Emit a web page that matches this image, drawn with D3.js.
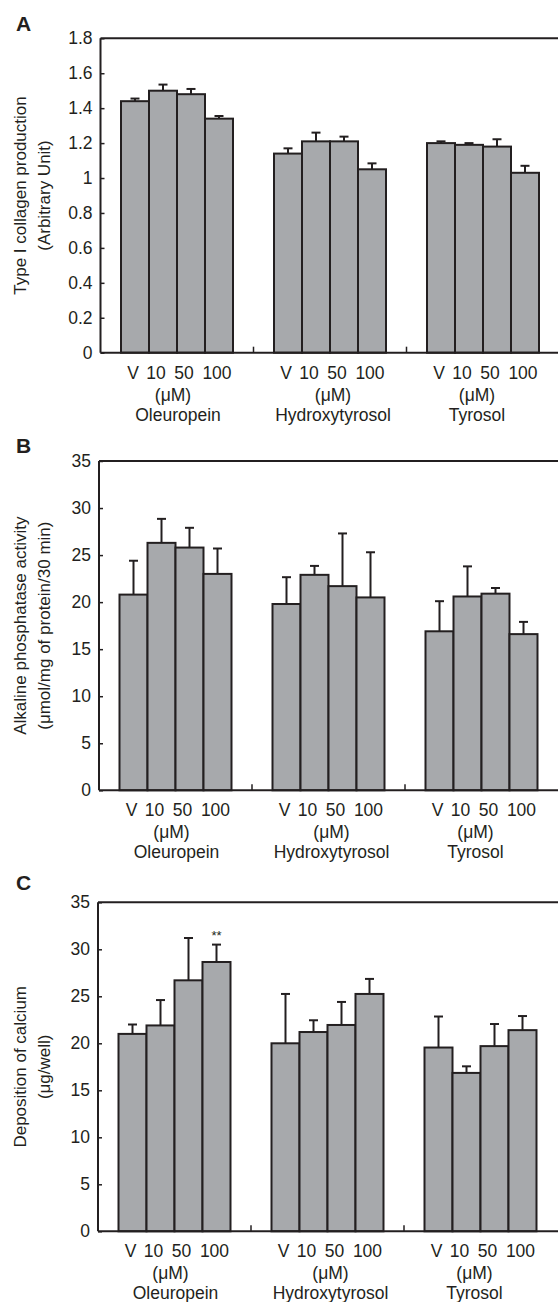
<!DOCTYPE html>
<html>
<head>
<meta charset="utf-8">
<script src="https://cdn.jsdelivr.net/npm/d3@7"></script>
<style>
  html, body { margin: 0; padding: 0; background: #fff; }
  svg { display: block; }
  text { font-family: "Liberation Sans", Arial, Helvetica, sans-serif; fill: #231f20; }
</style>
</head>
<body>
<svg id="chart" width="558" height="1302"></svg>
<script>
// ---------- data ----------
const groups = ["Oleuropein", "Hydroxytyrosol", "Tyrosol"];
const doses = ["V", "10", "50", "100"];
const unitLabel = "(\u03bcM)";

const collagenMean = [1.44, 1.50, 1.48, 1.34, 1.14, 1.21, 1.21, 1.05, 1.20, 1.19, 1.18, 1.03];
const collagenErr  = [0.015, 0.035, 0.03, 0.015, 0.03, 0.05, 0.027, 0.034, 0.01, 0.01, 0.042, 0.04];
const collagenTicks = [0, 0.2, 0.4, 0.6, 0.8, 1, 1.2, 1.4, 1.6, 1.8];
const collagenTickLabels = ["0", "0.2", "0.4", "0.6", "0.8", "1", "1.2", "1.4", "1.6", "1.8"];

const alpMean = [20.8, 26.3, 25.8, 23.0, 19.8, 22.9, 21.7, 20.5, 16.9, 20.6, 20.9, 16.6];
const alpErr  = [3.6, 2.55, 2.1, 2.7, 2.85, 0.95, 5.6, 4.8, 3.2, 3.2, 0.6, 1.3];
const alpTicks = [0, 5, 10, 15, 20, 25, 30, 35];
const alpTickLabels = ["0", "5", "10", "15", "20", "25", "30", "35"];

const calcMean = [21.0, 21.9, 26.7, 28.65, 20.0, 21.2, 21.95, 25.25, 19.55, 16.85, 19.7, 21.4];
const calcErr  = [1.0, 2.7, 4.5, 1.85, 5.25, 1.25, 2.45, 1.6, 3.3, 0.7, 2.35, 1.5];
const calcTicks = [0, 5, 10, 15, 20, 25, 30, 35];
const calcTickLabels = ["0", "5", "10", "15", "20", "25", "30", "35"];
const calcSignif = ["", "", "", "**", "", "", "", "", "", "", "", ""];

// ---------- layout / style ----------
const W = 558;
const ink = "#231f20";
const barFill = "#a7a9ac";
const doseLabelShift = [-2, -7, -7, -2];
const unitShift = [-4, 3, -6];
const nameShift = [1, 3, -6];

const panels = [
  { letter: "A", letterY: 31, axisX: 100.5, top: 38.3, bottom: 352.7,
    max: 1.8, mean: collagenMean, err: collagenErr, ticks: collagenTicks, tickLabels: collagenTickLabels,
    title: ["Type I collagen production", "(Arbitrary Unit)"], signif: null },
  { letter: "B", letterY: 453, axisX: 99, top: 461, bottom: 790.3,
    max: 35, mean: alpMean, err: alpErr, ticks: alpTicks, tickLabels: alpTickLabels,
    title: ["Alkaline phosphatase activity", "(\u03bcmol/mg of protein/30 min)"], signif: null },
  { letter: "C", letterY: 890, axisX: 98, top: 902.3, bottom: 1231.3,
    max: 35, mean: calcMean, err: calcErr, ticks: calcTicks, tickLabels: calcTickLabels,
    title: ["Deposition of calcium", "(\u03bcg/well)"], signif: calcSignif }
];

const svg = d3.select("#chart");

panels.forEach(p => {
  const g = svg.append("g");
  const y = d3.scaleLinear().domain([0, p.max]).range([p.bottom, p.top]);
  const x0 = d3.scaleBand().domain(groups).range([p.axisX, p.axisX + 459])
    .paddingInner(0.268).paddingOuter(0.134);
  const x1 = d3.scaleBand().domain(doses).range([0, x0.bandwidth()]).padding(0);

  const rows = [];
  groups.forEach((gr, gi) => doses.forEach((d, di) => {
    const k = gi * 4 + di;
    rows.push({ group: gr, dose: d, di, v: p.mean[k], e: p.err[k], s: p.signif ? p.signif[k] : "" });
  }));

  // panel letter
  g.append("text").attr("x", 16).attr("y", p.letterY)
    .attr("font-size", 21).attr("font-weight", "bold").text(p.letter);

  // y axis title
  const cy = (p.top + p.bottom) / 2;
  [26, 50].forEach((bx, i) => {
    g.append("text").attr("transform", `translate(${bx},${cy}) rotate(-90)`)
      .attr("text-anchor", "middle").attr("font-size", 17).text(p.title[i]);
  });

  // error bars
  const eb = g.append("g").attr("stroke", ink).attr("stroke-width", 2);
  rows.forEach(r => {
    const cx = x0(r.group) + x1(r.dose) + x1.bandwidth() / 2;
    eb.append("line").attr("x1", cx).attr("x2", cx).attr("y1", y(r.v)).attr("y2", y(r.v + r.e));
    eb.append("line").attr("x1", cx - 4.5).attr("x2", cx + 4.5).attr("y1", y(r.v + r.e)).attr("y2", y(r.v + r.e));
  });

  // bars
  g.append("g").selectAll("rect").data(rows).join("rect")
    .attr("x", d => x0(d.group) + x1(d.dose))
    .attr("y", d => y(d.v))
    .attr("width", x1.bandwidth())
    .attr("height", d => y(0) - y(d.v))
    .attr("fill", barFill).attr("stroke", ink).attr("stroke-width", 2);

  // significance
  rows.filter(r => r.s).forEach(r => {
    const cx = x0(r.group) + x1(r.dose) + x1.bandwidth() / 2;
    g.append("text").attr("x", cx).attr("y", y(r.v + r.e) - 5)
      .attr("text-anchor", "middle").attr("font-size", 13).text(r.s);
  });

  // y axis
  const ya = g.append("g").attr("transform", `translate(${p.axisX},0)`)
    .call(d3.axisLeft(y).tickValues(p.ticks).tickSize(-4).tickPadding(8)
      .tickFormat((d, i) => p.tickLabels[i]));
  ya.select(".domain").remove();
  ya.selectAll(".tick line").attr("stroke", ink).attr("stroke-width", 1.5);
  ya.selectAll(".tick text").attr("font-size", 17.5).attr("fill", ink)
    .attr("font-family", "'Liberation Sans', Arial, Helvetica, sans-serif");

  // frame lines: left axis, top line, bottom axis
  const fl = g.append("g").attr("stroke", ink).attr("stroke-width", 2);
  fl.append("line").attr("x1", p.axisX).attr("x2", p.axisX).attr("y1", p.top).attr("y2", p.bottom);
  fl.append("line").attr("x1", p.axisX).attr("x2", W).attr("y1", p.top).attr("y2", p.top);
  fl.append("line").attr("x1", p.axisX).attr("x2", W).attr("y1", p.bottom).attr("y2", p.bottom);

  // group separator ticks
  groups.slice(0, -1).forEach(gr => {
    const sx = x0(gr) + x0.bandwidth() + x0.step() * x0.paddingInner() / 2;
    fl.append("line").attr("x1", sx).attr("x2", sx).attr("y1", p.bottom).attr("y2", p.bottom - 6)
      .attr("stroke-width", 1.5);
  });

  // dose labels
  rows.forEach(r => {
    const cx = x0(r.group) + x1(r.dose) + x1.bandwidth() / 2 + doseLabelShift[r.di];
    g.append("text").attr("x", cx).attr("y", p.bottom + 26)
      .attr("text-anchor", "middle").attr("font-size", 17.5).text(r.dose);
  });
  // unit + group names
  groups.forEach((gr, gi) => {
    const gc = x0(gr) + x0.bandwidth() / 2;
    g.append("text").attr("x", gc + unitShift[gi]).attr("y", p.bottom + 48)
      .attr("text-anchor", "middle").attr("font-size", 17.5).text(unitLabel);
    g.append("text").attr("x", gc + nameShift[gi]).attr("y", p.bottom + 68)
      .attr("text-anchor", "middle").attr("font-size", 17.5).text(gr);
  });
});
</script>
</body>
</html>
